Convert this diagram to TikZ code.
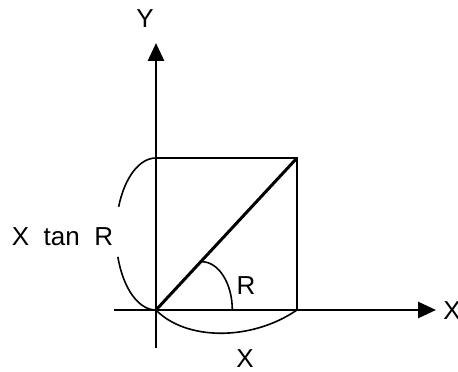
\documentclass[tikz,border=0pt]{standalone}
\usepackage{fontspec}
\setmainfont{Liberation Sans}
\usetikzlibrary{arrows.meta}
\begin{document}
\begin{tikzpicture}[x=1pt, y=1pt, every node/.style={font=\fontsize{26}{31}\selectfont, inner sep=0pt},
  axis/.style={line width=2.8pt, -{Triangle[length=18pt, width=16pt]}},
  thinline/.style={line width=1.6pt}]
  \useasboundingbox (0,0) rectangle (458,372);
  % --- Points (positions chosen to match the drawing) ---
  \coordinate (o) at (156,62);
  \coordinate (ytip) at (156,329);
  \coordinate (ybot) at (156,24);
  \coordinate (xtip) at (436,62);
  \coordinate (xleft) at (114,62);
  \coordinate (a) at (156,214);
  \coordinate (b) at (297,214);
  \coordinate (c) at (297,62);

  % --- Labels ---
  \node (ylab) at (145,353) {Y};
  \node (xlab) at (452,61) {X};
  \node (xbot) at (245,13) {X};
  \node (rlab) at (246,86) {R};
  \node (tanlab) at (62.5,135) {X\ \ tan\ \ R};

  % --- Axes ---
  \draw[axis] (ybot)--(ytip);
  \draw[axis] (xleft)--(xtip);

  % --- Square and diagonal ---
  \draw[line width=2pt] (a)--(b)--(c);
  \draw[line width=3pt] (o)--(b);

  % --- Angle and braces ---
  \draw[thinline] (201.7,110.3) arc[start angle=90, end angle=0, x radius=30.6, y radius=48.3];
  \draw[thinline] (a) arc[start angle=90, end angle=159, x radius=40, y radius=76];
  \draw[thinline] (o) arc[start angle=270, end angle=197.5, x radius=40, y radius=76];
  \draw[thinline] (o) .. controls (185,32) and (250,30) .. (c);
\end{tikzpicture}
\end{document}
